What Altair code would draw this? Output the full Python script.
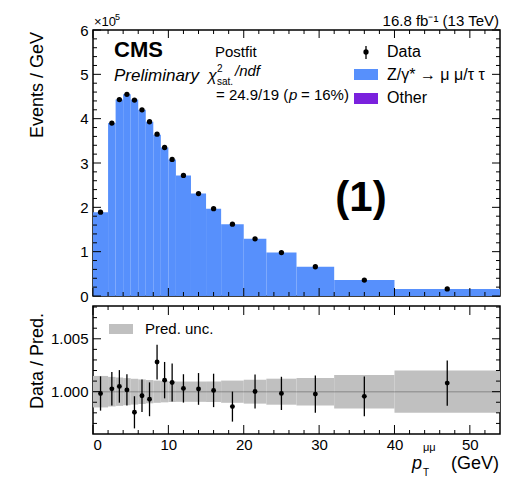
import altair as alt
import pandas as pd

FONT = "Liberation Sans"

# ---------------- data ----------------
bin_low = [0, 2, 3, 4, 5, 6, 7, 8, 9, 10, 11, 13, 15, 17, 20, 23, 27, 32, 40]
bin_high = [2, 3, 4, 5, 6, 7, 8, 9, 10, 11, 13, 15, 17, 20, 23, 27, 32, 40, 54]
bin_center = [1, 2.5, 3.5, 4.5, 5.5, 6.5, 7.5, 8.5, 9.5, 10.5, 12, 14, 16, 18.5, 21.5, 25, 29.5, 36, 47]
# Events / GeV in units of 1e5
pred_vals = [1.89, 3.90, 4.43, 4.55, 4.43, 4.20, 3.93, 3.64, 3.35, 3.08, 2.72, 2.31, 1.97, 1.62, 1.29, 0.98, 0.66, 0.36, 0.16]
data_vals = [1.89, 3.90, 4.43, 4.55, 4.42, 4.20, 3.93, 3.65, 3.35, 3.08, 2.72, 2.31, 1.97, 1.62, 1.29, 0.98, 0.66, 0.36, 0.16]
ratio_vals = [0.99983, 1.00027, 1.00050, 1.00017, 0.99805, 0.99962, 0.99928, 1.00280, 1.00109, 1.00087,
              1.00031, 1.00026, 1.00012, 0.99859, 1.00002, 0.99984, 0.99977, 0.99956, 1.00081]
ratio_errs = [0.00162, 0.00158, 0.00154, 0.00148, 0.00152, 0.00154, 0.00160, 0.00164, 0.00172, 0.00180,
              0.00134, 0.00150, 0.00158, 0.00142, 0.00161, 0.00157, 0.00175, 0.00188, 0.00214]
pred_unc = [0.00149, 0.00140, 0.00134, 0.00128, 0.00122, 0.00116, 0.00110, 0.00105, 0.00101, 0.00098,
            0.00096, 0.00096, 0.00097, 0.00105, 0.00113, 0.00123, 0.00130, 0.00158, 0.00200]

x_major = [0, 10, 20, 30, 40, 50]
x_minor = [2, 4, 6, 8, 12, 14, 16, 18, 22, 24, 26, 28, 32, 34, 36, 38, 42, 44, 46, 48, 52]
y_major = [0, 1, 2, 3, 4, 5, 6]
y_minor = [0.2, 0.4, 0.6, 0.8, 1.2, 1.4, 1.6, 1.8, 2.2, 2.4, 2.6, 2.8, 3.2, 3.4, 3.6, 3.8,
           4.2, 4.4, 4.6, 4.8, 5.2, 5.4, 5.6, 5.8]
r_major = [1.000, 1.005]
r_minor = [0.997, 0.998, 0.999, 1.001, 1.002, 1.003, 1.004, 1.006, 1.007, 1.008]

BLUE = "#5790fc"
PURPLE = "#7a21dd"
GREY = "#c0c0c0"

W, H, H2 = 407, 266, 128

hist = pd.DataFrame({"lo": bin_low, "hi": bin_high, "c": bin_center,
                     "pred": pred_vals, "data": data_vals,
                     "r": ratio_vals, "e": ratio_errs, "u": pred_unc})

xs = alt.Scale(domain=[0, 54], nice=False, zero=False)
ys = alt.Scale(domain=[0, 6], nice=False, zero=False)
rs = alt.Scale(domain=[0.996, 1.0081], nice=False, zero=False)


def mk_axis(values, fmt, pad):
    return alt.Axis(values=values, format=fmt, title=None, grid=False, ticks=False,
                    domain=False, labelFontSize=15, labelFont=FONT, labelPadding=pad,
                    labelColor="black")


ax_top_y = mk_axis(y_major, "d", 5)
ax_r_x = mk_axis(x_major, "d", 3)
ax_r_y = mk_axis(r_major, ".3f", 5)


def txt(s, x, y, size=15, align="left", baseline="alphabetic", **kw):
    return alt.Chart(pd.DataFrame({"t": [s]})).mark_text(
        text=s, font=FONT, fontSize=size, align=align, baseline=baseline,
        color="black", **kw).encode(x=alt.value(x), y=alt.value(y))


def xticks(vals, scale, axis, y0, y1):
    return alt.Chart(pd.DataFrame({"v": vals})).mark_rule(color="black", strokeWidth=1).encode(
        x=alt.X("v:Q", scale=scale, axis=axis), y=alt.value(y0), y2=alt.value(y1))


def yticks(vals, scale, axis, x0, x1):
    return alt.Chart(pd.DataFrame({"v": vals})).mark_rule(color="black", strokeWidth=1).encode(
        y=alt.Y("v:Q", scale=scale, axis=axis), x=alt.value(x0), x2=alt.value(x1))


def box(x0, x1, y0, y1, color):
    return alt.Chart(pd.DataFrame({"a": [0]})).mark_rect(color=color).encode(
        x=alt.value(x0), x2=alt.value(x1), y=alt.value(y0), y2=alt.value(y1))


# ---------------- top panel ----------------
bars = alt.Chart(hist).mark_rect(color=BLUE).encode(
    x=alt.X("lo:Q", scale=xs, axis=None),
    x2="hi:Q",
    y=alt.Y("pred:Q", scale=ys, axis=ax_top_y),
    y2=alt.datum(0),
)
pts = alt.Chart(hist).mark_circle(color="black", size=28, opacity=1).encode(
    x=alt.X("c:Q", scale=xs, axis=None),
    y=alt.Y("data:Q", scale=ys, axis=ax_top_y),
)

top_layers = [
    bars, pts,
    xticks(x_major, xs, None, H, H - 8), xticks(x_minor, xs, None, H, H - 4),
    xticks(x_major, xs, None, 0, 8), xticks(x_minor, xs, None, 0, 4),
    yticks(y_major, ys, ax_top_y, 0, 8), yticks(y_minor, ys, ax_top_y, 0, 4),
    yticks(y_major, ys, ax_top_y, W - 8, W), yticks(y_minor, ys, ax_top_y, W - 4, W),
    txt("Events / GeV", -55, 2, size=18, align="right", baseline="middle", angle=270),
    txt("×10", 1, -4, size=13),
    txt("5", 22, -10, size=9),
    txt("16.8 fb⁻¹ (13 TeV)", 406, -4, size=15, align="right"),
    txt("CMS", 21, 27, size=22, fontWeight="bold"),
    txt("Preliminary", 21, 51, size=17, fontStyle="italic"),
    txt("Postfit", 122, 27, size=15),
    txt("χ", 115, 51, size=16, fontStyle="italic"),
    txt("2", 124, 42, size=10),
    txt("sat.", 124, 55, size=10),
    txt("/ndf", 142, 46, size=15, fontStyle="italic"),
    txt("= 24.9/19 (", 123, 70, size=15),
    txt("p", 196, 70, size=15, fontStyle="italic"),
    txt("= 16%)", 208, 70, size=15),
    # legend
    alt.Chart(pd.DataFrame({"a": [0]})).mark_rule(color="black", strokeWidth=1.3).encode(
        x=alt.value(273), y=alt.value(16), y2=alt.value(29)),
    alt.Chart(pd.DataFrame({"a": [0]})).mark_circle(color="black", size=28, opacity=1).encode(
        x=alt.value(273), y=alt.value(22)),
    txt("Data", 294, 27, size=16),
    box(261, 285, 39, 50, BLUE),
    txt("Z/γ* → μ μ/τ τ", 294, 50, size=16),
    box(261, 285, 63, 74, PURPLE),
    txt("Other", 294, 73, size=16),
    txt("(1)", 268, 181, size=42, align="center", fontWeight="bold"),
]
top = alt.layer(*top_layers).properties(width=W, height=H)

# ---------------- ratio panel ----------------
band = alt.Chart(hist).transform_calculate(
    blo="1 - datum.u", bhi="1 + datum.u"
).mark_rect(color=GREY).encode(
    x=alt.X("lo:Q", scale=xs, axis=ax_r_x),
    x2="hi:Q",
    y=alt.Y("blo:Q", scale=rs, axis=ax_r_y),
    y2="bhi:Q",
)
center = alt.Chart(hist).transform_calculate(one="1.0").mark_rule(
    color="#999999", strokeWidth=1.5).encode(
    x=alt.X("lo:Q", scale=xs, axis=ax_r_x), x2="hi:Q",
    y=alt.Y("one:Q", scale=rs, axis=ax_r_y))
ebars = alt.Chart(hist).transform_calculate(
    elo="datum.r - datum.e", ehi="datum.r + datum.e"
).mark_rule(color="black", strokeWidth=1.3).encode(
    x=alt.X("c:Q", scale=xs, axis=ax_r_x),
    y=alt.Y("elo:Q", scale=rs, axis=ax_r_y),
    y2="ehi:Q",
)
rpts = alt.Chart(hist).mark_circle(color="black", size=24, opacity=1).encode(
    x=alt.X("c:Q", scale=xs, axis=ax_r_x),
    y=alt.Y("r:Q", scale=rs, axis=ax_r_y),
)

bot_layers = [
    band, center, ebars, rpts,
    xticks(x_major, xs, ax_r_x, H2, H2 - 9), xticks(x_minor, xs, ax_r_x, H2, H2 - 4),
    xticks(x_major, xs, ax_r_x, 0, 9), xticks(x_minor, xs, ax_r_x, 0, 4),
    yticks(r_major, rs, ax_r_y, 0, 8), yticks(r_minor, rs, ax_r_y, 0, 4),
    yticks(r_major, rs, ax_r_y, W - 8, W), yticks(r_minor, rs, ax_r_y, W - 4, W),
    box(16, 40, 18, 28, GREY),
    txt("Pred. unc.", 52, 28, size=15),
    txt("Data / Pred.", -55, 7, size=18, align="right", baseline="middle", angle=270),
    txt("p", 319, 163, size=18, fontStyle="italic"),
    txt("T", 330, 170, size=10),
    txt("μμ", 330, 145, size=11),
    txt("(GeV)", 406, 163, size=18, align="right"),
]
bottom = alt.layer(*bot_layers).properties(width=W, height=H2)

chart = alt.vconcat(top, bottom, spacing=10, bounds="flush").properties(
    padding={"left": 28, "top": 12, "right": 0, "bottom": 0}
).configure_view(stroke="black", strokeWidth=1.5)

chart.save("out.html", embed_options={"renderer": "svg", "actions": False})
